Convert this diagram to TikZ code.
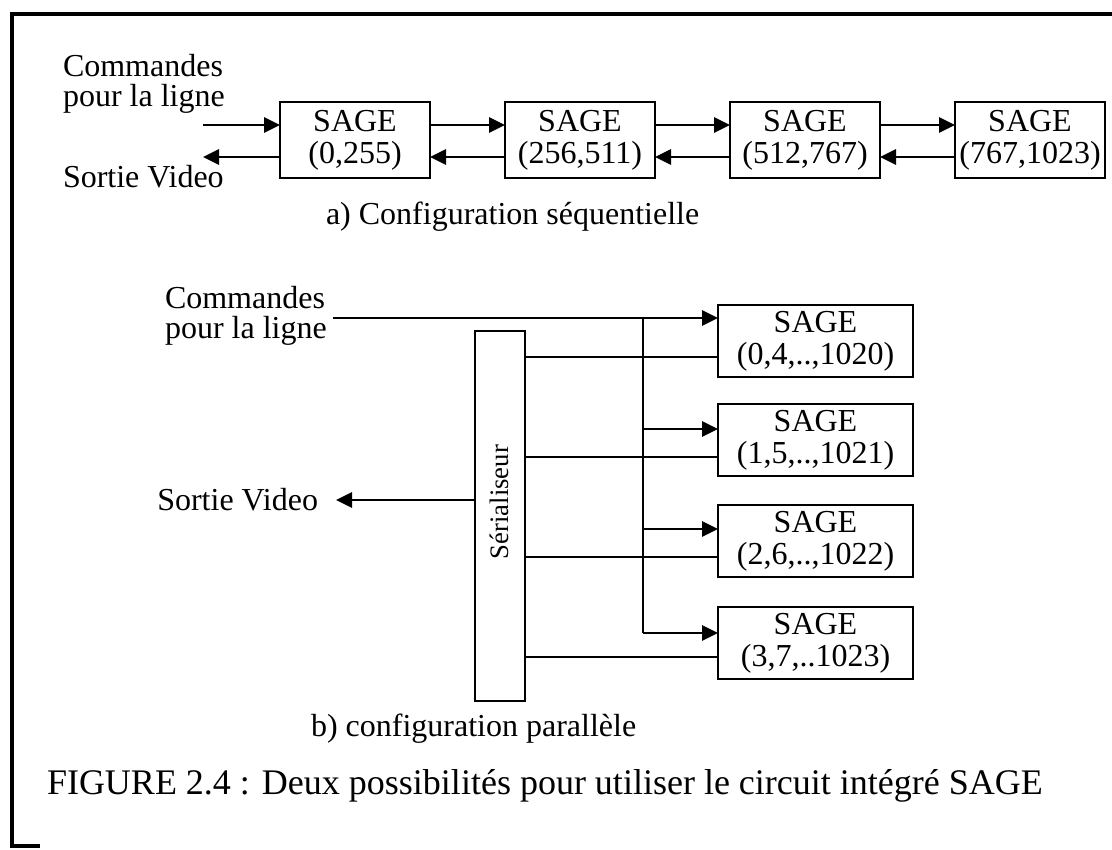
\documentclass[tikz,border=0pt]{standalone}
\usepackage{fontspec}
\setmainfont{Liberation Serif}
\usetikzlibrary{arrows.meta}
\newcommand\boxfont{\fontsize{24}{24}\selectfont}
\newcommand\lblfont{\fontsize{24}{22}\selectfont}
\newcommand\capfont{\fontsize{27}{30}\selectfont}
\begin{document}
\begin{tikzpicture}[x=0.75pt,y=-0.75pt,
  line width=1.5pt,
  every node/.style={inner sep=0pt,outer sep=0pt},
  box/.style={draw,line width=1.5pt,align=center,font=\boxfont},
  tbox/.style={box,minimum width=112.5pt,minimum height=57pt,anchor=north west},
  pbox/.style={box,minimum width=146.25pt,minimum height=54pt,anchor=north west},
  arr/.style={-{Triangle[length=12pt,width=11.5pt]}},
  lbl/.style={align=left,font=\lblfont}]
\useasboundingbox (0,0) rectangle (1112,849);
% frame
\draw[line width=2.6pt] (40,846) -- (12,846) -- (12,14) -- (1112,14);

% a) sequential configuration
\node[lbl,anchor=west] (cmdA) at (63,84) {Commandes\\pour la ligne};
\node[lbl,anchor=west] (svA) at (63,177) {Sortie Video};
\node[tbox] (s1) at (280,102) {SAGE\\(0,255)};
\node[tbox] (s2) at (505,102) {SAGE\\(256,511)};
\node[tbox] (s3) at (730,102) {SAGE\\(512,767)};
\node[tbox] (s4) at (955,102) {SAGE\\(767,1023)};
\coordinate (inA) at (203,125);
\coordinate (outA) at (203,157);
\draw[arr] (inA) -- (s1.west |- inA);
\draw[arr] (s1.west |- outA) -- (outA);
\foreach \a/\b in {s1/s2,s2/s3,s3/s4}{
  \draw[arr] (\a.east |- inA) -- (\b.west |- inA);
  \draw[arr] (\b.west |- outA) -- (\a.east |- outA);
}
\node[lbl,anchor=west] (capA) at (326,217) {a) Configuration séquentielle};

% b) parallel configuration
\node[lbl,anchor=west] (cmdB) at (165,316) {Commandes\\pour la ligne};
\node[pbox] (p1) at (718,305) {SAGE\\(0,4,..,1020)};
\node[pbox] (p2) at (718,404) {SAGE\\(1,5,..,1021)};
\node[pbox] (p3) at (718,505) {SAGE\\(2,6,..,1022)};
\node[pbox] (p4) at (718,607) {SAGE\\(3,7,..1023)};
\node[box,minimum width=37.5pt,minimum height=277.5pt,anchor=north west] (ser) at (475,331) {};
\node[font=\fontsize{20}{22}\selectfont,rotate=90] (sert) at (499,502) {Sérialiseur};
\coordinate (cmdL) at (333,318);
\coordinate (bt) at (643,318);
\coordinate (bb) at (643,633);
\coordinate (a2) at (643,429);
\coordinate (a3) at (643,529);
\draw[arr] (cmdL) -- (p1.west |- cmdL);
\draw (bt) -- (bb);
\draw[arr] (a2) -- (p2.west |- a2);
\draw[arr] (a3) -- (p3.west |- a3);
\draw[arr] (bb) -- (p4.west |- bb);
\foreach \i/\y in {1/357,2/457,3/557,4/657}{
  \draw (ser.east |- 0,\y) -- (p\i.west |- 0,\y);
}
\node[lbl,anchor=east] (svB) at (318,500) {Sortie Video};
\coordinate (svtip) at (336,500);
\draw[arr] (ser.west |- svtip) -- (svtip);
\node[lbl,anchor=west] (capB) at (311,729) {b) configuration parallèle};

% caption
\node[anchor=west,font=\capfont] (cap) at (47,786) {FIGURE 2.4 : Deux possibilités pour utiliser le circuit intégré SAGE};
\end{tikzpicture}
\end{document}
